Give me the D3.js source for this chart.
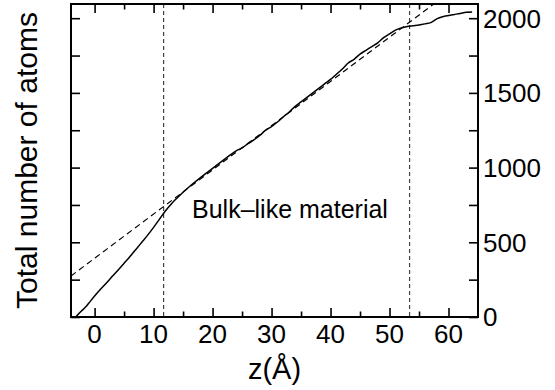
<!DOCTYPE html>
<html>
<head>
<meta charset="utf-8">
<script src="https://cdn.jsdelivr.net/npm/d3@7"></script>
<style>
  body { margin: 0; background: #fff; }
  svg { display: block; font-family: "Liberation Sans", Arial, sans-serif; }
</style>
</head>
<body>
<div id="chart"></div>
<script>
// cumulative atom count along z
const zValues = [-3.2, -2.5, -1.5, -1, 0, 1, 2, 3, 4, 5, 6, 7, 8, 9, 10, 11, 12, 13, 14, 15,
  16, 17, 18, 19, 20, 21, 22, 23, 24, 25, 26, 27, 28, 29, 30, 31, 32, 33, 34, 35,
  36, 37, 38, 39, 40, 41, 42, 43, 44, 45, 46, 47, 48, 49, 50, 51, 52, 53, 54, 55,
  56, 57, 58, 59, 60, 61, 62, 63, 64];
const atomCounts = [0, 30, 68, 92, 140, 185, 228, 272, 315, 360, 405, 452, 500, 548, 600, 655, 710, 757, 797, 835,
  870, 903, 935, 965, 995, 1025, 1055, 1085, 1112, 1132, 1160, 1185, 1215, 1250, 1275, 1305, 1340, 1372, 1410, 1440,
  1470, 1500, 1530, 1560, 1590, 1625, 1660, 1700, 1725, 1760, 1785, 1810, 1835, 1870, 1895, 1920, 1935, 1945, 1950, 1955,
  1962, 1970, 1995, 2010, 2018, 2025, 2032, 2040, 2042];

// linear fit of the bulk-like region
const fitIntercept = 393;
const fitSlope = 29.6;

// bulk region boundaries
const bulkBounds = [11.7, 53.4];

const xTicks = [0, 10, 20, 30, 40, 50, 60];
const xMinorTicks = [5, 15, 25, 35, 45, 55];
const yTicks = [0, 500, 1000, 1500, 2000];
const yMinorTicks = [250, 750, 1250, 1750];

const width = 555, height = 390;
const margin = { top: 4, right: 77, bottom: 73, left: 71 };

const svg = d3.select('#chart').append('svg')
  .attr('width', width)
  .attr('height', height);

const x = d3.scaleLinear().domain([-4, 65]).range([margin.left, width - margin.right]);
const y = d3.scaleLinear().domain([0, 2095]).range([height - margin.bottom, margin.top]);

const plotW = width - margin.right - margin.left;
const plotH = height - margin.bottom - margin.top;

const g = svg.append('g');

// clip for the data
svg.append('clipPath').attr('id', 'clip')
  .append('rect')
  .attr('x', margin.left).attr('y', margin.top)
  .attr('width', plotW).attr('height', plotH);

// vertical dashed boundaries
g.selectAll('line.bound')
  .data(bulkBounds)
  .enter()
  .append('line')
  .attr('class', 'bound')
  .attr('x1', d => x(d)).attr('x2', d => x(d))
  .attr('y1', margin.top).attr('y2', height - margin.bottom)
  .attr('stroke', '#444')
  .attr('stroke-width', 1.2)
  .attr('stroke-dasharray', '4,3');

// fit line
const fitLine = d3.line()
  .x(d => x(d))
  .y(d => y(fitIntercept + fitSlope * d));

g.append('path')
  .attr('clip-path', 'url(#clip)')
  .attr('d', fitLine([-4, 65]))
  .attr('fill', 'none')
  .attr('stroke', '#000')
  .attr('stroke-width', 1.2)
  .attr('stroke-dasharray', '6,4');

// data curve
const curve = d3.line()
  .x((d, i) => x(zValues[i]))
  .y(d => y(d))
  .curve(d3.curveMonotoneX);

g.append('path')
  .attr('clip-path', 'url(#clip)')
  .attr('d', curve(atomCounts))
  .attr('fill', 'none')
  .attr('stroke', '#000')
  .attr('stroke-width', 1.5);

// axes
const axisStyle = sel => {
  sel.select('.domain').remove();
  sel.selectAll('line').attr('stroke', '#000').attr('stroke-width', 1.6);
};

svg.append('g')
  .attr('transform', `translate(0,${height - margin.bottom})`)
  .call(d3.axisTop(x).tickValues(xTicks).tickSize(9).tickFormat(''))
  .call(axisStyle);

svg.append('g')
  .attr('transform', `translate(0,${height - margin.bottom})`)
  .call(d3.axisTop(x).tickValues(xMinorTicks).tickSize(5.5).tickFormat(''))
  .call(axisStyle);

svg.append('g')
  .attr('transform', `translate(0,${margin.top})`)
  .call(d3.axisBottom(x).tickValues(xTicks).tickSize(9).tickFormat(''))
  .call(axisStyle);

svg.append('g')
  .attr('transform', `translate(0,${margin.top})`)
  .call(d3.axisBottom(x).tickValues(xMinorTicks).tickSize(5.5).tickFormat(''))
  .call(axisStyle);

// x tick labels
svg.append('g')
  .selectAll('text')
  .data(xTicks)
  .enter()
  .append('text')
  .attr('x', d => x(d))
  .attr('y', height - margin.bottom + 26)
  .attr('text-anchor', 'middle')
  .style('font-size', '26px')
  .text(d => d);

svg.append('g')
  .attr('transform', `translate(${margin.left},0)`)
  .call(d3.axisRight(y).tickValues(yTicks.concat(yMinorTicks)).tickSize(9).tickFormat(''))
  .call(axisStyle);

svg.append('g')
  .attr('transform', `translate(${width - margin.right},0)`)
  .call(d3.axisLeft(y).tickValues(yTicks.concat(yMinorTicks)).tickSize(9).tickFormat(''))
  .call(axisStyle);

// y tick labels on right
svg.append('g')
  .selectAll('text')
  .data(yTicks)
  .enter()
  .append('text')
  .attr('x', width - margin.right + 5)
  .attr('y', d => y(d))
  .attr('dy', '0.36em')
  .style('font-size', '26px')
  .text(d => d);

// frame
svg.append('rect')
  .attr('x', margin.left).attr('y', margin.top)
  .attr('width', plotW).attr('height', plotH)
  .attr('fill', 'none')
  .attr('stroke', '#000')
  .attr('stroke-width', 2);

// annotation
svg.append('text')
  .attr('x', 192)
  .attr('y', 218)
  .style('font-size', '25px')
  .text('Bulk\u2013like material');

// axis titles
svg.append('text')
  .attr('x', x(30.5))
  .attr('y', 379)
  .attr('text-anchor', 'middle')
  .style('font-size', '29px')
  .text('z(\u00c5)');

svg.append('text')
  .attr('transform', `translate(37,${margin.top + plotH / 2}) rotate(-90)`)
  .attr('text-anchor', 'middle')
  .style('font-size', '30px')
  .text('Total number of atoms');
</script>
</body>
</html>
